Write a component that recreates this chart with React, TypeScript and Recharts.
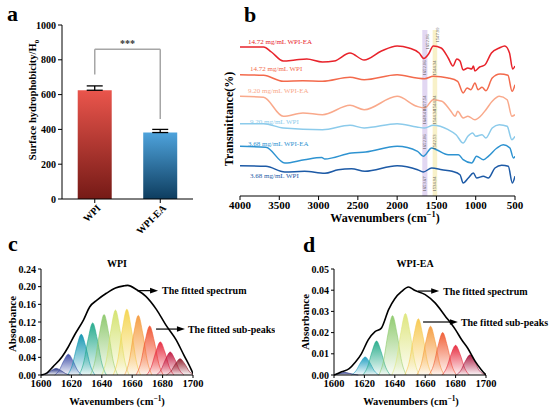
import React from 'react'
import {
  BarChart, Bar, XAxis, YAxis, ErrorBar, Cell, ReferenceLine,
  LineChart, Line, ComposedChart, Area, ReferenceArea,
} from 'recharts'

const SERIF = '"Liberation Serif", "Times New Roman", serif'

// ---- panel a: surface hydrophobicity
const samples = ['WPI', 'WPI-EA']
const hydrophobicity = [625, 382]
const hydroError = [25, 18]
const hydroTicks = [0, 200, 400, 600, 800, 1000]

// ---- panel b: FTIR spectra, [wavenumber, offset transmittance]
const spec1472Ea = [
  [4000, 149], [3700, 149], [3600, 144], [3450, 135], [3300, 136], [3150, 137], [2950, 134],
  [2800, 135], [2600, 143], [2420, 136], [2200, 145], [2000, 150], [1850, 148], [1720, 143],
  [1660, 137.5], [1600, 142], [1540, 150], [1440, 148], [1350, 138], [1290, 130], [1240, 137],
  [1200, 135], [1160, 126], [1100, 128], [1050, 127], [1030, 130], [1010, 125], [950, 129],
  [885, 131], [800, 143], [700, 148], [630, 150], [570, 143], [530, 127], [500, 130],
]
const spec1472 = [
  [4000, 121.3], [3700, 120.7], [3450, 114.7], [3200, 115.3], [2950, 114.7], [2600, 118.7],
  [2420, 116.3], [2000, 121.3], [1750, 118], [1650, 117.3], [1540, 119.7], [1350, 118],
  [1230, 114.7], [1160, 103], [1110, 108], [1060, 106.3], [1010, 113], [970, 106.3],
  [920, 108.7], [870, 105.3], [790, 118], [690, 122], [590, 120.7], [537, 104.7], [500, 111.3],
]
const spec920Ea = [
  [4000, 99.7], [3700, 98.7], [3450, 79.7], [3200, 83], [2950, 81.3], [2600, 90.7], [2420, 86.3],
  [2000, 99.7], [1750, 89.7], [1650, 88], [1540, 96.3], [1430, 94.7], [1330, 86.3], [1260, 79.7],
  [1230, 84.7], [1160, 78], [1100, 79.7], [1010, 76.3], [940, 79.7], [870, 86.3], [790, 94.7],
  [700, 99.7], [600, 96.3], [540, 79.7], [500, 81.3],
]
const spec920 = [
  [4000, 72.3], [3700, 72.3], [3450, 68], [2950, 66.3], [2600, 70.7], [2420, 68], [2000, 72.3],
  [1750, 69], [1650, 68], [1540, 70.7], [1350, 66.3], [1250, 61.3], [1160, 53], [1100, 59.7],
  [1040, 63], [1000, 59.7], [920, 61.3], [870, 58], [790, 68], [700, 71.3], [600, 69.7],
  [540, 56.3], [500, 59.7],
]
const spec368Ea = [
  [4000, 49.7], [3670, 48.7], [3430, 33], [3180, 36.3], [2960, 38.5], [2920, 37], [2580, 43],
  [2400, 44], [2000, 49.7], [1740, 44.7], [1667, 39.7], [1560, 48], [1500, 46.3], [1350, 41.3],
  [1220, 41.3], [1160, 36.3], [1050, 33], [990, 39.7], [900, 36.3], [840, 39.7], [730, 48],
  [650, 51.3], [565, 48], [520, 38], [500, 39.7],
]
const spec368 = [
  [4000, 30.3], [3670, 29.7], [3430, 24], [3180, 24.7], [2920, 22.7], [2750, 26.3], [2580, 27.3],
  [2410, 24.7], [2000, 30.3], [1740, 26.3], [1667, 24], [1560, 28], [1430, 26.3], [1300, 24.7],
  [1200, 21.3], [1160, 13], [1094, 18], [1030, 23], [988, 18], [903, 19.7], [840, 18],
  [755, 28], [670, 30.7], [585, 29.7], [534, 13], [500, 19.7],
]
const specNames = [
  '14.72 mg/mL WPI-EA', '14.72 mg/mL WPI', '9.20 mg/mL WPI-EA',
  '9.20 mg/mL WPI', '3.68 mg/mL WPI-EA', '3.68 mg/mL WPI',
]
const specColors = ['#e8232b', '#f36a4c', '#f9a98b', '#8ccbeb', '#2e93d1', '#1d5aa6']
const amideIBand = [1615, 1680]
const amideIIBand = [1490, 1548]
const amideILabels = ['1652.06', '1652.06', '1657.54', '1648.41', '1652.06', '1653.67']
const amideIILabels = ['1547.99', '1544.34', '1544.34', '1544.34', '1542.53', '1534.94']
const wnTicks = [4000, 3500, 3000, 2500, 2000, 1500, 1000, 500]

// ---- panel c: WPI amide I fit
const fitWpi = [
  [1600, 0], [1604, 0.005], [1608, 0.019], [1614, 0.042], [1618, 0.064], [1622, 0.09],
  [1628, 0.125], [1632, 0.154], [1637, 0.17], [1643, 0.185], [1649, 0.197], [1655, 0.202],
  [1657, 0.203], [1663, 0.193], [1669, 0.178], [1676, 0.148], [1682, 0.114], [1689, 0.079],
  [1694, 0.045], [1699, 0.011], [1700, 0.003],
]
const peaksWpi = [
  [[1601, 0], [1604, 0.0035], [1607, 0.0104], [1610, 0.015], [1613, 0.0104], [1616, 0.0035], [1619, 0]],
  [[1609, 0], [1612, 0.0108], [1615, 0.0324], [1618, 0.047], [1621, 0.0324], [1624, 0.0108], [1627, 0]],
  [[1617.5, 0], [1620.5, 0.0212], [1623.5, 0.0635], [1626.5, 0.092], [1629.5, 0.0635], [1632.5, 0.0212], [1635.5, 0]],
  [[1625, 0], [1628, 0.0271], [1631, 0.0814], [1634, 0.118], [1637, 0.0814], [1640, 0.0271], [1643, 0]],
  [[1632.5, 0], [1635.5, 0.0315], [1638.5, 0.0945], [1641.5, 0.137], [1644.5, 0.0945], [1647.5, 0.0315], [1650.5, 0]],
  [[1640, 0], [1643, 0.0338], [1646, 0.1014], [1649, 0.147], [1652, 0.1014], [1655, 0.0338], [1658, 0]],
  [[1647.5, 0], [1650.5, 0.0343], [1653.5, 0.1028], [1656.5, 0.149], [1659.5, 0.1028], [1662.5, 0.0343], [1665.5, 0]],
  [[1655, 0], [1658, 0.0311], [1661, 0.0932], [1664, 0.135], [1667, 0.0932], [1670, 0.0311], [1673, 0]],
  [[1662.5, 0], [1665.5, 0.0255], [1668.5, 0.0766], [1671.5, 0.111], [1674.5, 0.0766], [1677.5, 0.0255], [1680.5, 0]],
  [[1669.5, 0], [1672.5, 0.0173], [1675.5, 0.0518], [1678.5, 0.075], [1681.5, 0.0518], [1684.5, 0.0173], [1687.5, 0]],
  [[1676, 0], [1679, 0.012], [1682, 0.0359], [1685, 0.052], [1688, 0.0359], [1691, 0.012], [1694, 0]],
  [[1682.5, 0], [1685.5, 0.0085], [1688.5, 0.0255], [1691.5, 0.037], [1694.5, 0.0255], [1697.5, 0.0085], [1700, 0]],
]
const peakColorsWpi = [
  '#1c2a7e', '#3a4aa6', '#0c93b0', '#1fa889', '#8cc76a', '#d3e26b',
  '#f4d44c', '#f59a3b', '#f0502c', '#e6263a', '#c0143c', '#8e1a28',
]
const absTicksWpi = [0, 0.04, 0.08, 0.12, 0.16, 0.2, 0.24]

// ---- panel d: WPI-EA amide I fit
const fitWpiEa = [
  [1600, 0], [1605, 0.0015], [1610, 0.003], [1614, 0.006], [1618, 0.01], [1622.5, 0.0166],
  [1627, 0.0205], [1631, 0.022], [1636, 0.031], [1640, 0.036], [1644.5, 0.0394], [1649, 0.0415],
  [1653, 0.04], [1660, 0.0379], [1666.5, 0.034], [1673, 0.028], [1680, 0.0213], [1684, 0.0166],
  [1688, 0.0126], [1693, 0.0063], [1697, 0.0024], [1700, 0],
]
const peaksWpiEa = [
  [[1600, 0], [1601, 0.0003], [1604, 0.0008], [1607, 0.0012], [1610, 0.0008], [1613, 0.0003], [1616, 0]],
  [[1611.5, 0], [1614.5, 0.002], [1617.5, 0.0059], [1620.5, 0.0085], [1623.5, 0.0059], [1626.5, 0.002], [1629.5, 0]],
  [[1619, 0], [1622, 0.0037], [1625, 0.011], [1628, 0.016], [1631, 0.011], [1634, 0.0037], [1637, 0]],
  [[1629.5, 0], [1632.5, 0.0064], [1635.5, 0.0193], [1638.5, 0.028], [1641.5, 0.0193], [1644.5, 0.0064], [1647.5, 0]],
  [[1638, 0], [1641, 0.0067], [1644, 0.02], [1647, 0.029], [1650, 0.02], [1653, 0.0067], [1656, 0]],
  [[1646.5, 0], [1649.5, 0.0061], [1652.5, 0.0183], [1655.5, 0.0265], [1658.5, 0.0183], [1661.5, 0.0061], [1664.5, 0]],
  [[1654.5, 0], [1657.5, 0.0053], [1660.5, 0.0159], [1663.5, 0.023], [1666.5, 0.0159], [1669.5, 0.0053], [1672.5, 0]],
  [[1662.5, 0], [1665.5, 0.0046], [1668.5, 0.0138], [1671.5, 0.02], [1674.5, 0.0138], [1677.5, 0.0046], [1680.5, 0]],
  [[1671, 0], [1674, 0.0032], [1677, 0.0097], [1680, 0.014], [1683, 0.0097], [1686, 0.0032], [1689, 0]],
  [[1680.5, 0], [1683.5, 0.0022], [1686.5, 0.0066], [1689.5, 0.0095], [1692.5, 0.0066], [1695.5, 0.0022], [1700, 0]],
]
const peakColorsWpiEa = [
  '#1c2a7e', '#1a9cc0', '#22aa88', '#8dc96b', '#dde57a',
  '#f7c84d', '#f59a3b', '#f05a30', '#e6263a', '#a8143c',
]
const absTicksWpiEa = [0, 0.01, 0.02, 0.03, 0.04, 0.05]
const amideTicks = [1600, 1620, 1640, 1660, 1680, 1700]

const toXY = (pairs: number[][]) => pairs.map(([x, y]) => ({ x, y }))

const tickStyle = { fill: '#000', fontSize: 10, fontWeight: 700, fontFamily: SERIF }

const RotatedTick = (props: any) => {
  const { x, y, payload } = props
  const tx = x + 5
  const ty = y + 2
  return (
    <text x={tx} y={ty} transform={`rotate(-45 ${tx} ${ty})`} textAnchor="end" dominantBaseline="middle"
      fontSize={10} fontWeight={700} fontFamily={SERIF} fill="#000">
      {payload.value}
    </text>
  )
}

const ArrowShape = (p: any) => {
  const { x1, y1, x2, y2 } = p
  return (
    <g>
      <line x1={x1} y1={y1} x2={x2 - 5} y2={y2} stroke="#000" strokeWidth={1.2} />
      <polygon points={`${x2},${y2} ${x2 - 8},${y2 - 2.8} ${x2 - 8},${y2 + 2.8}`} fill="#000" />
    </g>
  )
}

function HydrophobicityChart() {
  const data = samples.map((name, i) => ({ name, value: hydrophobicity[i], err: [0, hydroError[i]] }))
  return (
    <BarChart width={200} height={245} data={data} margin={{ top: 25, right: 7, bottom: 16, left: 27 }}
      barCategoryGap="24%">
      <defs>
        <linearGradient id="gradWpi" x1="0" y1="0" x2="0" y2="1">
          <stop offset="0%" stopColor="#ea554c" />
          <stop offset="100%" stopColor="#751a16" />
        </linearGradient>
        <linearGradient id="gradWpiEa" x1="0" y1="0" x2="0" y2="1">
          <stop offset="0%" stopColor="#4ea3dc" />
          <stop offset="100%" stopColor="#0e3d5f" />
        </linearGradient>
      </defs>
      <XAxis dataKey="name" height={30} tick={<RotatedTick />} tickSize={4} stroke="#000" />
      <YAxis width={35} domain={[0, 1000]} ticks={hydroTicks} tick={tickStyle} tickSize={4}
        stroke="#000" tickMargin={2} />
      <Bar dataKey="value" isAnimationActive={false}>
        <Cell fill="url(#gradWpi)" />
        <Cell fill="url(#gradWpiEa)" />
        <ErrorBar dataKey="err" width={8} stroke="#000" strokeWidth={1.3} direction="y" />
      </Bar>
      <ReferenceLine segment={[{ x: 'WPI', y: 715 }, { x: 'WPI', y: 860 }]} stroke="#a6a6a6" strokeWidth={1.5} />
      <ReferenceLine segment={[{ x: 'WPI-EA', y: 460 }, { x: 'WPI-EA', y: 860 }]} stroke="#a6a6a6" strokeWidth={1.5} />
      <ReferenceLine segment={[{ x: 'WPI', y: 860 }, { x: 'WPI-EA', y: 860 }]} stroke="#a6a6a6" strokeWidth={1.5}
        label={{ value: '***', position: 'top', offset: 2, fill: '#333', fontSize: 10, fontWeight: 700, fontFamily: SERIF }} />
    </BarChart>
  )
}

function FtirChart() {
  const series = [spec1472Ea, spec1472, spec920Ea, spec920, spec368Ea, spec368]
  return (
    <LineChart width={350} height={230} margin={{ top: 30, right: 35, bottom: 10, left: 40 }}>
      <XAxis xAxisId="b" type="number" dataKey="x" domain={[500, 4000]} reversed ticks={wnTicks}
        tick={{ ...tickStyle, fontSize: 11 }} tickSize={4} tickMargin={1} stroke="#000" height={24}
        allowDataOverflow />
      <XAxis xAxisId="t" type="number" orientation="top" domain={[500, 4000]} reversed tick={false}
        tickLine={false} stroke="#000" height={0} />
      <YAxis yAxisId="l" type="number" domain={[0, 166]} tick={false} tickLine={false} stroke="#000" width={0} />
      <YAxis yAxisId="r" orientation="right" type="number" domain={[0, 166]} tick={false} tickLine={false}
        stroke="#000" width={0} />
      <ReferenceArea xAxisId="b" yAxisId="l" x1={amideIBand[0]} x2={amideIBand[1]} fill="#d8c9ee" fillOpacity={0.75} />
      <ReferenceArea xAxisId="b" yAxisId="l" x1={amideIIBand[0]} x2={amideIIBand[1]} fill="#f7efbf" fillOpacity={0.85} />
      {series.map((s, i) => (
        <Line key={specNames[i]} xAxisId="b" yAxisId="l" data={toXY(s)} dataKey="y" type="monotone"
          stroke={specColors[i]} strokeWidth={1.5} dot={false} isAnimationActive={false} />
      ))}
    </LineChart>
  )
}

function FitChart(props: {
  fit: number[][]; peaks: number[][][]; colors: string[]; ticks: number[]; max: number
  id: string; leftMargin: number; rightMargin: number
  spectrumArrow: number[]; peaksArrow: number[]
}) {
  const { fit, peaks, colors, ticks, max, id, leftMargin, rightMargin, spectrumArrow, peaksArrow } = props
  const labelStyle = { fill: '#000', fontSize: 10, fontWeight: 700, fontFamily: SERIF }
  return (
    <ComposedChart width={275} height={181} margin={{ top: 39, right: rightMargin, bottom: 12, left: leftMargin }}>
      <defs>
        {colors.map((c, i) => (
          <linearGradient key={c + i} id={`${id}${i}`} x1="0" y1="0" x2="0" y2="1">
            <stop offset="0%" stopColor={c} stopOpacity={0.95} />
            <stop offset="100%" stopColor={c} stopOpacity={0.04} />
          </linearGradient>
        ))}
      </defs>
      <XAxis type="number" dataKey="x" domain={[1600, 1700]} ticks={amideTicks} tick={{ ...tickStyle, fontSize: 10.5 }}
        tickSize={3} tickMargin={2} stroke="#000" height={24} allowDataOverflow />
      <YAxis type="number" domain={[0, max]} ticks={ticks} tick={tickStyle} tickSize={3} tickMargin={2}
        stroke="#000" width={30} tickFormatter={(v: number) => v.toFixed(2)} />
      {peaks.map((p, i) => (
        <Area key={i} data={toXY(p)} dataKey="y" type="monotone" stroke={colors[i]} strokeWidth={0.6}
          fill={`url(#${id}${i})`} fillOpacity={1} dot={false} activeDot={false} isAnimationActive={false} />
      ))}
      <Line data={toXY(fit)} dataKey="y" type="monotone" stroke="#000" strokeWidth={1.6} dot={false}
        activeDot={false} isAnimationActive={false} />
      <ReferenceLine segment={[{ x: spectrumArrow[0], y: spectrumArrow[2] }, { x: spectrumArrow[1], y: spectrumArrow[2] }]}
        shape={ArrowShape} ifOverflow="visible"
        label={{ value: 'The fitted spectrum', position: 'right', offset: 4, ...labelStyle }} />
      <ReferenceLine segment={[{ x: peaksArrow[0], y: peaksArrow[2] }, { x: peaksArrow[1], y: peaksArrow[2] }]}
        shape={ArrowShape} ifOverflow="visible"
        label={{ value: 'The fitted sub-peaks', position: 'right', offset: 3, ...labelStyle }} />
    </ComposedChart>
  )
}

const Wavenumbers = (p: { x: number; y: number; size: number }) => (
  <text x={p.x} y={p.y} textAnchor="middle" fontSize={p.size} fontWeight={700} fontFamily={SERIF}>
    Wavenumbers (cm<tspan dy={-p.size * 0.4} fontSize={p.size * 0.7}>−1</tspan><tspan dy={p.size * 0.4}>)</tspan>
  </text>
)

function Overlay() {
  const bandLabelY = [42, 68, 103, 117, 142, 184]
  return (
    <svg width={550} height={411} style={{ position: 'absolute', left: 0, top: 0, pointerEvents: 'none' }}
      fontFamily={SERIF}>
      <text x={7} y={21} fontSize={22} fontWeight={700}>a</text>
      <text x={244} y={22} fontSize={22} fontWeight={700}>b</text>
      <text x={8} y={251} fontSize={22} fontWeight={700}>c</text>
      <text x={303} y={252} fontSize={22} fontWeight={700}>d</text>

      <text transform="translate(36 100) rotate(-90)" textAnchor="middle" fontSize={10.5} fontWeight={700}>
        Surface hydrophobicity/H<tspan dy={3} fontSize={7}>0</tspan>
      </text>

      <text transform="translate(233 119) rotate(-90)" textAnchor="middle" fontSize={12} fontWeight={700}>
        Transmittance(%)
      </text>
      <Wavenumbers x={385} y={222} size={12} />
      {specNames.map((n, i) => (
        <text key={n} x={i % 2 === 0 ? 248 : 250} y={[44, 71, 93, 124, 146, 178][i]} fontSize={7}
          fill={specColors[i]}>{n}</text>
      ))}
      {amideILabels.map((t, i) => (
        <text key={'a' + i} transform={`translate(${i === 0 ? 428 : 425} ${bandLabelY[i]}) rotate(-90)`}
          textAnchor="middle" dominantBaseline="middle" fontSize={4.6} fill="#555">{t}</text>
      ))}
      {amideIILabels.map((t, i) => (
        <text key={'b' + i} transform={`translate(${i === 0 ? 438 : 435} ${bandLabelY[i] - (i === 0 ? 7 : 0)}) rotate(-90)`}
          textAnchor="middle" dominantBaseline="middle" fontSize={4.6} fill="#555">{t}</text>
      ))}

      <text x={117} y={267} textAnchor="middle" fontSize={10} fontWeight={700}>WPI</text>
      <text transform="translate(16 324) rotate(-90)" textAnchor="middle" fontSize={11} fontWeight={700}>Absorbance</text>
      <Wavenumbers x={117} y={405} size={10.5} />

      <text x={415} y={267} textAnchor="middle" fontSize={10} fontWeight={700}>WPI-EA</text>
      <text transform="translate(309 322) rotate(-90)" textAnchor="middle" fontSize={11} fontWeight={700}>Absorbance</text>
      <Wavenumbers x={411} y={405} size={10.5} />
    </svg>
  )
}

export default function App() {
  return (
    <div style={{ position: 'absolute', left: 0, top: 0, width: 550, height: 411, background: '#fff', overflow: 'hidden' }}>
      <div style={{ position: 'absolute', left: 0, top: 230 }}>
        <FitChart fit={fitWpi} peaks={peaksWpi} colors={peakColorsWpi} ticks={absTicksWpi} max={0.24} id="gc"
          leftMargin={11} rightMargin={82} spectrumArrow={[1663.2, 1677, 0.191]} peaksArrow={[1675.7, 1694.7, 0.104]} />
      </div>
      <div style={{ position: 'absolute', left: 275, top: 230 }}>
        <FitChart fit={fitWpiEa} peaks={peaksWpiEa} colors={peakColorsWpiEa} ticks={absTicksWpiEa} max={0.05} id="gd"
          leftMargin={29} rightMargin={64} spectrumArrow={[1655.3, 1669.2, 0.0396]} peaksArrow={[1658.6, 1681.5, 0.025]} />
      </div>
      <div style={{ position: 'absolute', left: 0, top: 0 }}>
        <HydrophobicityChart />
      </div>
      <div style={{ position: 'absolute', left: 200, top: 0 }}>
        <FtirChart />
      </div>
      <Overlay />
    </div>
  )
}
